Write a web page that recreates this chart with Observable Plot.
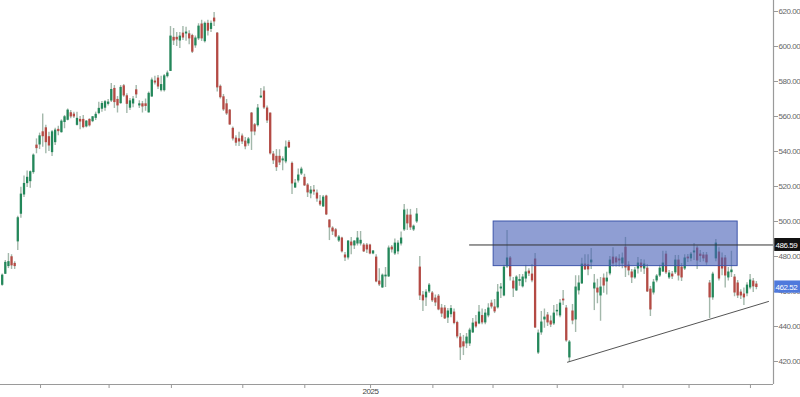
<!DOCTYPE html>
<html>
<head>
<meta charset="utf-8">
<script src="https://cdn.jsdelivr.net/npm/d3@7"></script>
<script src="https://cdn.jsdelivr.net/npm/@observablehq/plot@0.6"></script>
<style>
  html, body { margin: 0; padding: 0; background: #fff; }
  #chart svg { display: block; }
  #chart svg text { letter-spacing: -0.45px; }
</style>
</head>
<body>
<div id="chart"></div>
<script>
// ---- Data (daily candles) ----
const open = [463.8,470.1,474.5,479.6,475.8,488.6,504.4,515.4,521.9,523,528.2,543.4,544,551,553.3,548.2,539.6,545.3,552.4,551,
556.8,558.1,561.9,561.1,555.2,558.1,558.1,554.3,558.1,557.3,559.2,561.9,564.4,565,567.2,569.1,575.8,569.5,567.6,577.3,
571.6,565,567.4,575,566.3,567,567,562.3,571.4,580,581.7,575,575,583,586,605,605,603.4,607.4,607.4,
607,606,600.6,604.6,612.6,603,613,610,616,607.4,577,571,567,563.4,553,547.4,547,548.6,545.7,544.6,
561.7,555,555,570.9,574.3,564.6,561.7,538.3,537,537,534.9,534.3,545,533,519.4,523.4,527.4,525,520.6,516,
517.7,516,511.4,508.6,514.3,500.6,496,495,489.1,490.3,480.6,479.4,488,486.3,487.4,487.4,486.3,486.3,486.3,481.7,
479.4,465.7,462.3,468.6,468.6,485.1,481.7,482.9,487.4,495.4,503.4,503.4,495.4,500,473.7,457.7,456.6,460,458.9,456,
457.1,450.3,450.3,445.1,447,448,442,433.7,431,430.3,430.3,436.6,442.3,441.7,446,442.3,446.3,453.1,450.9,450.9,
461.7,457.7,474.3,478.9,465.7,460.6,466,462.9,467.4,471.4,469.7,478.3,425.1,436.6,444,446.3,442.9,441.7,448.6,446.3,
455.4,450.3,422.3,448.6,444,460.6,464.6,475.4,475,476.6,461.7,461.7,457.7,467.4,465.7,470.3,479.4,478.9,478.3,476,
485.1,474.9,470.9,468,473.1,476,473.1,473.1,461.1,459.4,466.3,469.1,471.4,481.1,468,469.7,470.9,477.7,473.7,473.1,
479.4,478.9,482.3,484.6,481.1,480.6,480.6,464.6,456.6,478.9,482.3,478.9,478.9,468,471,468,464.6,459.4,458.3,458.9,
462.3,465.7,464];
const high = [470,477.7,481.7,481,477,503,519.6,526,528.9,528.9,538.6,547.2,550.5,561.5,555,551,552,553.3,554.5,558.1,
560.6,564.3,563.4,562.5,562.5,560,560.6,557.7,558.7,560,562.5,568.2,568.6,569.1,569.7,578.9,577.7,571.4,577.7,578.3,
573,570.3,571.4,577.7,569,568.6,570,574,582,583,583.4,583,584,586,611.4,610.3,608,608,611.4,611,
609,607,606,613,615,614,615,614.6,619.4,608,578,572.6,569.7,564,554,549,551,550,548,548,
562.3,556,566.9,576,577,566,562,540,541.1,541,537,546,546.3,534,524,530,531,527,521.7,520,
520.6,518,514.9,514.9,515,501,497,496,492,491,482.3,489,490.9,489,494.3,494.3,487.4,487.4,487,483.4,
481,473,470,473.7,486,486.3,490,489,494,509.7,507,506.9,498,507.4,480,460,461,464.6,460,458,
458.3,452.6,452,450.3,452,450,443,436,434.9,436,439,444.6,446.3,452,450,449.7,453,455,455.4,464,
464.6,475,494.9,480,468,469,469.7,469.7,475,473,475.4,481.7,438,448.6,450,448,446,452,452.6,455.4,
460.6,452,432,452.6,469,469,479,481,481,484.6,469.7,467,468,470,471,480,485,480,481,482,
490.9,477,472.6,473.7,479.4,478.3,478,475.4,462.9,466.9,469.7,475,483,483,472,471.4,480.6,480.6,476,481,
481.1,482.3,487.4,486,483.4,482.3,482.3,466.3,471,489.7,485,482,480.6,473.7,483,469.7,466.3,461,462,465,
469.7,467.4,465.7];
const low = [463,469.7,473.1,472.6,472.6,483.4,501.9,513.7,519.4,519,527,538.7,541.1,542.5,538.7,540,537.1,543.4,549,550.5,
553,557.5,558.7,558.9,554.6,552.4,553,553.5,554,556.5,557.7,561,562.5,563,566,568,564.6,562,567,571,
561.7,563.4,565,570.3,564.6,562,563,562,571,578,575.4,574,574,582,585.7,600.6,600,598.9,603.4,603,
601,596,599,603.4,602.9,602,606,608,611.4,574,570,562.9,560.6,555,546,543,542.9,544,541,543,
540.6,549,554,570.3,564,556,538,532.6,528.6,532,529,533,541.7,515.4,518.9,522,526.3,520,513.7,513,
515,511,508.6,508,503.4,489.1,492,490.6,488,482,477.1,478,481,484,486,486,482.3,481.7,481,481,
465,462.9,461.7,462.3,468,482,480.6,481,486,494.3,494.9,494.9,494.3,498.9,454.9,448.6,451.4,458.9,453.7,451.4,
449,445.1,444,441.7,445,441,433,420.6,423.4,427.4,428.6,436,439,441,441,441,445,450,447.4,450,
456,457,473.1,466,456.6,460,463,462,465,468.6,465,438.9,424,435,439,440,439.4,440.6,446,445,
452,431,419.4,441,436.6,458,464,472,469,472.6,449.1,453,443,459,458,469,474,474,474,473,
468,469,464.6,467,470,471,469.7,459.4,445.7,458,465,468,470.9,469.7,466.9,466.9,469.7,466,465.7,472,
476.6,477,477.7,472.6,476.6,477,475,444.6,455,477,466,469,462,466,468,457,456,455.4,452,457,
461,459.4,461];
const close = [469.1,476.4,476.8,474.9,474.5,501.9,515.4,521.5,525,528.2,537.7,541.9,548.7,548.7,545.3,543.4,551,552,551.6,557.1,
559.6,563.4,560,560,558.7,557.1,553.9,557.1,554.9,559.6,561,564.4,567.2,568.2,568,575.2,568.2,566.3,576.4,572,
567.2,568.7,569.7,572.6,567,565.7,566,573,580.6,579.4,577.1,578,583,584.6,605.7,603.4,604,605.7,605.1,608,
604.6,597,604.6,611.4,604.6,613,609,613,614.3,576.6,571,564,561.7,555.4,547.4,545,545.7,545.7,542.9,546.9,
551.4,551.4,564.6,571.4,565.1,557.7,538.9,534.9,531,533.7,535.5,542.3,542.3,521.7,521.7,526.3,529.7,520.6,516.6,517.7,
517.1,513.1,509.7,513.7,504,496.6,494.3,491.4,490.9,482.9,479.4,488.6,486.3,488.6,490.3,489,482.9,484,481.7,482.9,
465.7,464,469.1,469.1,484.6,484,487.4,487.4,490.3,506.3,498.9,496.6,497.1,504,457.7,454.9,459.4,463.4,454.9,453.7,
449.7,447.4,444.6,448.6,450,442,434.3,428,428.6,433.7,437.7,441.7,440,448,442.3,447.4,450.3,451.4,448.6,459.4,
462.3,473.7,478.9,468.6,461.7,468,466.6,468,470.9,470.3,466.3,439.4,436,442.3,445.1,442.3,441.1,447.4,449,453.1,
454.9,432,430.9,443.4,462.3,464.6,475.4,472.6,472.6,477.7,464.6,459.4,462.3,463.4,467.4,477.7,476,476.6,477.7,478.9,
473.7,472,468,472,476,473.7,475.4,460,449.7,465.1,468.6,473.1,476,470.9,470.3,468.6,477.7,469.1,468,478.9,
478.9,481.1,482.9,477.7,480.3,478.9,476.6,456.6,469.7,487.4,467.4,473.1,469.1,470.9,472,459.4,457.7,457.7,456.6,463.4,
466.3,462.9,462.52];

// y-axis tick values and x-axis month ticks (candle index positions)
const yTicks = [420, 440, 460, 480, 500, 520, 540, 560, 580, 600, 620];
const monthTicks = [12.3, 34.3, 54.3, 77.2, 97.1, 118.2, 138.2, 157.5, 178.1, 199.2, 220.4, 240.1];
const monthLabels = ["", "", "", "", "", "2025", "", "", "", "", "", ""];

// annotations
const zoneX = [157.7, 236];
const zoneY = [474.5, 500];
const resistance = 486.59;
const resistanceFrom = 150;
const trendX = [181.4, 245.9];
const trendY = [419.6, 454.3];
const lastPrice = 462.52;

// ---- Build ----
const candles = open.map((o, i) => ({ i, o, h: high[i], l: low[i], c: close[i], up: close[i] >= o }));
const trend = trendX.map((x, k) => ({ x, y: trendY[k] }));

const xMax = 247.5;          // index at the price axis
const xLabEnd = 256.2;       // index at the right edge of the page
const yDom = [406.86, 626.29];

const GREEN = "#23875a";
const RED = "#b44a44";
const FS = 8;

const chart = Plot.plot({
  width: 800,
  height: 397,
  marginLeft: 1.7,
  marginRight: 27,
  marginTop: 0,
  marginBottom: 13,
  x: { type: "linear", domain: [0, xMax] },
  y: { domain: yDom },
  style: { fontFamily: "'Liberation Sans', Arial, sans-serif", fontSize: FS + "px", color: "#555", background: "#fff" },
  marks: [
    // wicks
    Plot.ruleX(candles, { x: "i", y1: "l", y2: "h", stroke: "#a3b8ab", strokeWidth: 1.4 }),
    // bodies
    Plot.ruleX(candles, {
      x: "i",
      y1: d => Math.min(d.o, d.c) - 0.25,
      y2: d => Math.max(d.o, d.c) + 0.25,
      stroke: d => d.up ? GREEN : RED,
      strokeWidth: 2.3
    }),
    // supply zone
    Plot.rect([0], {
      x1: () => zoneX[0], x2: () => zoneX[1], y1: () => zoneY[0], y2: () => zoneY[1],
      fill: "#4a62b8", fillOpacity: 0.62, stroke: "#3d55aa", strokeWidth: 1
    }),
    // resistance level
    Plot.ruleY([resistance], { x1: resistanceFrom, x2: xMax, stroke: "#333", strokeWidth: 1 }),
    // rising trend line
    Plot.line(trend, { x: "x", y: "y", stroke: "#555", strokeWidth: 1 }),
    // frame lines
    Plot.ruleX([xMax], { stroke: "#9a9a9a", strokeWidth: 1.2 }),
    Plot.ruleY([yDom[0]], { x1: -0.6, x2: xMax, stroke: "#9a9a9a", strokeWidth: 1.2 }),
    // axes
    Plot.axisY(yTicks, { anchor: "right", tickFormat: d => d.toFixed(2), tickSize: 4, tickPadding: 1, stroke: "#9a9a9a", fill: "#666", fontSize: FS }),
    Plot.axisX(monthTicks, {
      anchor: "bottom", tickSize: 4, tickPadding: 0, stroke: "#9a9a9a", fill: "#444", fontSize: FS,
      tickFormat: d => monthLabels[monthTicks.indexOf(d)]
    }),
    // price labels on the axis
    Plot.rect([resistance], { x1: xMax + 0.4, x2: xLabEnd, y1: d => d - 3.7, y2: d => d + 3.7, fill: "#111" }),
    Plot.text([resistance], { x: xMax + 0.65, y: d => d, text: d => d.toFixed(2), fill: "#fff", textAnchor: "start", fontSize: FS }),
    Plot.rect([lastPrice], { x1: xMax + 0.4, x2: xLabEnd, y1: d => d - 3.5, y2: d => d + 3.5, fill: "#4f79dc" }),
    Plot.text([lastPrice], { x: xMax + 0.65, y: d => d, text: d => d.toFixed(2), fill: "#fff", textAnchor: "start", fontSize: FS })
  ]
});

document.getElementById("chart").appendChild(chart);
</script>
</body>
</html>
